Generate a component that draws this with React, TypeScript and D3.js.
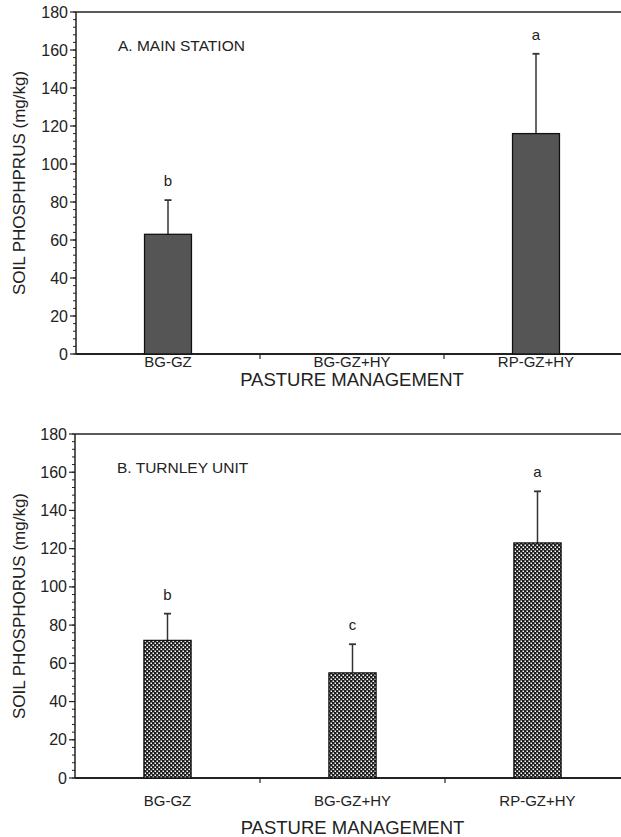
import * as d3 from 'd3';
import React from 'react';

const categories = ['BG-GZ', 'BG-GZ+HY', 'RP-GZ+HY'];
// panel A: main station (no bar for BG-GZ+HY)
const mainMeans = [63, null, 116];
const mainUpper = [81, null, 158];
const mainLetters = ['b', '', 'a'];
// panel B: turnley unit
const turnMeans = [72, 55, 123];
const turnUpper = [86, 70, 150];
const turnLetters = ['b', 'c', 'a'];
const yTicks = [0, 20, 40, 60, 80, 100, 120, 140, 160, 180];

const font = '"Liberation Sans", Arial, sans-serif';

function Panel({ top, bottom, left, band, means, upper, letters, title, yLabel, fill, xLabelY, xTitleY }) {
    const y = d3.scaleLinear().domain([0, 180]).range([bottom, top]);
    const x = d3.scaleBand().domain(categories).range([left, left + band * 3]).paddingInner(0).paddingOuter(0);
    const barW = band * 0.255;
    const minor = d3.range(0, 181, 4);
    const ink = '#222';

    return (
        <g fontFamily={font} fill={ink}>
            {/* frame: top and left, bottom axis */}
            <line x1={left} x2={640} y1={top} y2={top} stroke={ink} strokeWidth={1.5} />
            <line x1={left} x2={left} y1={top} y2={bottom} stroke={ink} strokeWidth={1.5} />
            <line x1={left} x2={640} y1={bottom} y2={bottom} stroke={ink} strokeWidth={2} />
            {minor.map(v => (
                <line key={'m' + v} x1={left - 3} x2={left} y1={y(v)} y2={y(v)} stroke={ink} strokeWidth={1} />
            ))}
            {yTicks.map(v => (
                <g key={v}>
                    <line x1={left - 6} x2={left} y1={y(v)} y2={y(v)} stroke={ink} strokeWidth={1.2} />
                    <text x={left - 8} y={y(v)} dy="0.35em" textAnchor="end" fontSize={16}>{v}</text>
                </g>
            ))}
            {categories.slice(1).map(c => (
                <line key={c} x1={x(c)} x2={x(c)} y1={bottom} y2={bottom + 5} stroke={ink} strokeWidth={1.2} />
            ))}
            {categories.map((c, i) => {
                const cx = x(c) + x.bandwidth() / 2;
                const m = means[i];
                return (
                    <g key={c}>
                        <text x={cx} y={xLabelY} textAnchor="middle" fontSize={15}>{c}</text>
                        {m != null && (
                            <g>
                                <line x1={cx} x2={cx} y1={y(m)} y2={y(upper[i])} stroke="#333" strokeWidth={1.5} />
                                <line x1={cx - 3.5} x2={cx + 3.5} y1={y(upper[i])} y2={y(upper[i])} stroke="#333" strokeWidth={1.8} />
                                <rect x={cx - barW / 2} y={y(m)} width={barW} height={bottom - y(m)}
                                    fill={fill} stroke="#111" strokeWidth={1.3} />
                                <text x={cx} y={y(upper[i]) - 14} textAnchor="middle" fontSize={15}>{letters[i]}</text>
                            </g>
                        )}
                    </g>
                );
            })}
            <text x={left + 42} y={top + 39} fontSize={15.5}>{title}</text>
            <text x={left + band * 1.5} y={xTitleY} textAnchor="middle" fontSize={18.5}>PASTURE MANAGEMENT</text>
            <text transform={`translate(25,${(top + bottom) / 2}) rotate(-90)`} textAnchor="middle" fontSize={17}>{yLabel}</text>
        </g>
    );
}

export default function App() {
    return (
        <svg width={621} height={837} style={{ position: 'absolute', left: 0, top: 0, background: '#fff' }}>
            <defs>
                <pattern id="checks" width={4} height={4} patternUnits="userSpaceOnUse">
                    <rect width={4} height={4} fill="#1e1e1e" />
                    <rect x={0.5} y={0.5} width={1.5} height={1.5} fill="#fff" />
                    <rect x={2.5} y={2.5} width={1.5} height={1.5} fill="#fff" />
                </pattern>
            </defs>
            <Panel top={12} bottom={354} left={76} band={184} means={mainMeans} upper={mainUpper}
                letters={mainLetters} title="A. MAIN STATION" yLabel="SOIL PHOSPHPRUS (mg/kg)" fill="#555"
                xLabelY={367} xTitleY={386} />
            <Panel top={434} bottom={778} left={75} band={185} means={turnMeans} upper={turnUpper}
                letters={turnLetters} title="B. TURNLEY UNIT" yLabel="SOIL PHOSPHORUS (mg/kg)" fill="url(#checks)"
                xLabelY={806} xTitleY={834} />
        </svg>
    );
}
